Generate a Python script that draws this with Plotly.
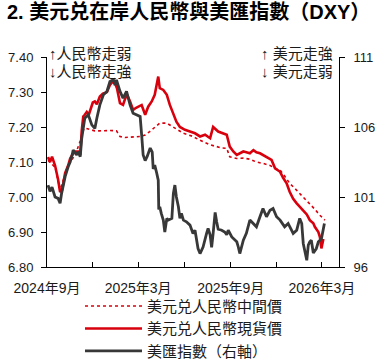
import plotly.graph_objects as go

# ---- data ----
spot_dates = ["2024-09-03","2024-09-07","2024-09-11","2024-09-17","2024-09-23","2024-09-27","2024-10-01",
    "2024-10-07","2024-10-13","2024-10-17","2024-10-23","2024-10-27","2024-11-02","2024-11-06","2024-11-09",
    "2024-11-12","2024-11-15","2024-11-19","2024-11-23","2024-11-27","2024-12-01","2024-12-05","2024-12-09",
    "2024-12-15","2024-12-21","2024-12-25","2024-12-29","2025-01-04","2025-01-10","2025-01-14","2025-01-18",
    "2025-01-24","2025-01-30","2025-02-03","2025-02-07","2025-02-13","2025-02-19","2025-02-25","2025-03-01",
    "2025-03-08","2025-03-15","2025-03-21","2025-03-28","2025-04-03","2025-04-10","2025-04-13","2025-04-20",
    "2025-04-27","2025-05-03","2025-05-10","2025-05-16","2025-05-23","2025-06-02","2025-06-12","2025-06-22",
    "2025-07-02","2025-07-12","2025-07-22","2025-07-28","2025-08-07","2025-08-17","2025-08-24","2025-08-30",
    "2025-09-06","2025-09-13","2025-09-19","2025-09-26","2025-10-02","2025-10-09","2025-10-16","2025-10-22",
    "2025-10-29","2025-11-04","2025-11-11","2025-11-18","2025-11-21","2025-11-28","2025-12-08","2025-12-14",
    "2025-12-21","2025-12-27","2026-01-03","2026-01-10","2026-01-16","2026-01-23","2026-01-30","2026-02-05",
    "2026-02-12","2026-02-15","2026-02-22","2026-02-25","2026-02-28","2026-03-04"]
spot_values = [7.114,7.100,7.115,7.090,7.050,7.014,7.020,
    7.068,7.090,7.110,7.125,7.130,7.130,7.120,7.190,
    7.230,7.235,7.243,7.235,7.250,7.270,7.273,7.265,
    7.287,7.295,7.297,7.300,7.320,7.330,7.325,7.311,
    7.268,7.263,7.280,7.292,7.273,7.249,7.255,7.258,
    7.263,7.235,7.258,7.273,7.292,7.344,7.311,7.306,
    7.292,7.263,7.235,7.215,7.200,7.192,7.187,7.182,
    7.173,7.178,7.168,7.200,7.187,7.182,7.178,7.144,
    7.130,7.120,7.125,7.130,7.128,7.125,7.134,7.128,
    7.125,7.120,7.115,7.110,7.106,7.082,7.072,7.055,
    7.039,7.015,6.995,6.982,6.972,6.962,6.950,6.934,
    6.925,6.915,6.900,6.886,6.853,6.880]

fix_dates = ["2024-09-03","2024-09-17","2024-09-27","2024-10-07","2024-10-17","2024-10-27","2024-11-06",
    "2024-11-12","2024-11-15","2024-11-25","2024-12-05","2024-12-15","2024-12-25","2025-01-04","2025-01-17",
    "2025-01-24","2025-02-03","2025-02-13","2025-02-23","2025-03-05","2025-03-15","2025-03-24","2025-04-03",
    "2025-04-13","2025-04-27","2025-05-10","2025-05-19","2025-05-30","2025-06-08","2025-06-18","2025-06-28",
    "2025-07-08","2025-07-22","2025-08-04","2025-08-14","2025-08-24","2025-08-30","2025-09-13","2025-09-26",
    "2025-10-09","2025-10-22","2025-11-04","2025-11-18","2025-12-01","2025-12-08","2025-12-17","2025-12-27",
    "2026-01-06","2026-01-16","2026-01-26","2026-02-05","2026-02-15","2026-02-25","2026-03-07"]
fix_values = [7.105,7.085,7.020,7.065,7.100,7.120,7.160,
    7.190,7.197,7.193,7.189,7.189,7.190,7.190,7.189,
    7.173,7.170,7.170,7.172,7.173,7.177,7.187,7.200,
    7.211,7.211,7.200,7.190,7.182,7.178,7.173,7.165,
    7.158,7.149,7.144,7.140,7.139,7.115,7.110,7.111,
    7.108,7.100,7.096,7.090,7.080,7.077,7.060,7.039,
    7.025,7.010,6.995,6.982,6.965,6.948,6.934]

dxy_dates = ["2024-09-03","2024-09-07","2024-09-11","2024-09-17","2024-09-23","2024-09-27","2024-09-30",
    "2024-10-07","2024-10-13","2024-10-17","2024-10-21","2024-10-23","2024-10-30","2024-11-02","2024-11-06",
    "2024-11-09","2024-11-15","2024-11-22","2024-11-29","2024-12-05","2024-12-09","2024-12-15","2024-12-22",
    "2024-12-29","2025-01-04","2025-01-11","2025-01-14","2025-01-17","2025-01-24","2025-01-30","2025-02-06",
    "2025-02-13","2025-02-19","2025-02-26","2025-03-05","2025-03-08","2025-03-11","2025-03-15","2025-03-19",
    "2025-03-25","2025-03-29","2025-03-31","2025-04-03","2025-04-07","2025-04-10","2025-04-11","2025-04-13",
    "2025-04-16","2025-04-20","2025-04-23","2025-04-27","2025-04-30","2025-05-07","2025-05-10","2025-05-13",
    "2025-05-16","2025-05-20","2025-05-23","2025-05-26","2025-05-30","2025-06-05","2025-06-12","2025-06-18",
    "2025-06-22","2025-06-28","2025-07-02","2025-07-08","2025-07-15","2025-07-18","2025-07-22","2025-07-25",
    "2025-07-28","2025-08-01","2025-08-04","2025-08-07","2025-08-14","2025-08-20","2025-08-24","2025-08-27",
    "2025-09-03","2025-09-09","2025-09-13","2025-09-16","2025-09-19","2025-09-26","2025-10-02","2025-10-09",
    "2025-10-16","2025-10-22","2025-10-29","2025-11-04","2025-11-11","2025-11-18","2025-11-24","2025-12-01",
    "2025-12-08","2025-12-17","2025-12-24","2026-01-03","2026-01-10","2026-01-16","2026-01-20","2026-01-23",
    "2026-01-30","2026-02-02","2026-02-05","2026-02-08","2026-02-12","2026-02-18","2026-02-22","2026-02-25",
    "2026-02-28","2026-03-06"]
dxy_values = [101.85,101.40,101.70,101.00,100.90,100.55,101.26,
    102.45,103.16,103.50,104.00,104.36,104.00,104.24,103.88,
    105.20,106.63,106.87,106.15,105.90,106.63,107.58,108.30,
    108.54,109.25,109.37,109.00,109.37,108.54,108.06,108.54,
    107.58,106.99,106.87,106.75,105.43,104.00,103.60,103.90,
    104.50,104.20,103.00,103.28,102.70,102.20,100.10,100.30,
    99.83,99.35,98.50,99.47,99.35,99.47,101.26,101.85,
    101.00,100.30,99.47,99.83,99.35,99.23,98.99,98.40,
    98.63,97.32,96.96,97.43,98.40,98.75,98.30,97.40,
    98.40,99.90,99.23,98.70,98.63,98.50,98.30,98.63,
    98.15,97.90,97.80,97.43,96.96,97.91,98.40,99.35,
    99.11,98.87,99.59,100.18,99.59,100.06,100.18,99.59,
    99.35,98.87,99.11,98.40,98.63,99.47,99.11,97.68,
    96.48,97.56,97.80,97.91,97.00,97.32,97.80,97.91,
    98.00,99.10]

tick_dates = ["2024-09-01","2024-12-01","2025-03-01","2025-06-01","2025-09-01","2025-12-01","2026-03-01"]
tick_labels = ["2024年9月","","2025年3月","","2025年9月","","2026年3月"]
left_ticks = [6.80, 6.90, 7.00, 7.10, 7.20, 7.30, 7.40]
right_ticks = [96, 101, 106, 111]

names = ["美元兑人民幣中間價", "美元兑人民幣現貨價", "美匯指數（右軸）"]
title_text = "2. 美元兑在岸人民幣與美匯指數（DXY）"

RED = "#d9000d"
DARK = "#383838"
FONT = "Liberation Sans, Arial, Noto Sans CJK TC, sans-serif"

fig = go.Figure()
fig.add_trace(go.Scatter(x=fix_dates, y=fix_values, mode="lines", name=names[0],
                         line=dict(color=RED, width=1.6, dash="dot")))
fig.add_trace(go.Scatter(x=spot_dates, y=spot_values, mode="lines", name=names[1],
                         line=dict(color=RED, width=2.6)))
fig.add_trace(go.Scatter(x=dxy_dates, y=dxy_values, mode="lines", name=names[2], yaxis="y2",
                         line=dict(color=DARK, width=2.8)))

fig.update_layout(
    width=378, height=360,
    margin=dict(l=47, r=39, t=57, b=93, autoexpand=False),
    paper_bgcolor="white", plot_bgcolor="white",
    font=dict(family=FONT, size=13, color="#1a1a1a"),
    showlegend=True,
    legend=dict(x=0.113, y=-0.108, xanchor="left", yanchor="top",
                font=dict(size=15, color="#1a1a1a"), itemwidth=57,
                tracegroupgap=0, bgcolor="rgba(0,0,0,0)"),
    xaxis=dict(type="date", range=["2024-09-01", "2026-04-04"],
               tickvals=tick_dates, ticktext=tick_labels, ticks="inside", ticklen=5,
               tickcolor="black", showline=True, linecolor="black", linewidth=1,
               showgrid=False, zeroline=False, tickfont=dict(size=14), automargin=False,
               ticklabelstandoff=8),
    yaxis=dict(range=[6.80, 7.40], tickvals=left_ticks, tickformat=".2f",
               ticks="outside", ticklen=5, tickcolor="black",
               showline=True, linecolor="black", linewidth=1,
               showgrid=False, zeroline=False, tickfont=dict(size=13), automargin=False,
               ticklabelstandoff=5),
    yaxis2=dict(range=[96, 111], tickvals=right_ticks, overlaying="y", side="right",
                ticks="outside", ticklen=5, tickcolor="black",
                showline=True, linecolor="black", linewidth=1,
                showgrid=False, zeroline=False, tickfont=dict(size=13), automargin=False,
                ticklabelstandoff=6),
    annotations=[
        dict(text="<b>" + title_text + "</b>", xref="paper", yref="paper", x=-0.145, y=1.215,
             xanchor="left", yanchor="middle", showarrow=False,
             font=dict(size=20, color="black", family="Liberation Sans, Noto Sans CJK TC")),
        dict(text="↑人民幣走弱", xref="paper", yref="paper", x=0.0, y=1.019,
             xanchor="left", yanchor="middle", showarrow=False, font=dict(size=15)),
        dict(text="↓人民幣走強", xref="paper", yref="paper", x=0.0, y=0.929,
             xanchor="left", yanchor="middle", showarrow=False, font=dict(size=15)),
        dict(text="↑ 美元走強", xref="paper", yref="paper", x=0.985, y=1.019,
             xanchor="right", yanchor="middle", showarrow=False, font=dict(size=15)),
        dict(text="↓ 美元走弱", xref="paper", yref="paper", x=0.985, y=0.929,
             xanchor="right", yanchor="middle", showarrow=False, font=dict(size=15)),
    ],
)

fig.write_html("out.html", config={"displayModeBar": False},
               post_script="document.body.style.margin='0';")
